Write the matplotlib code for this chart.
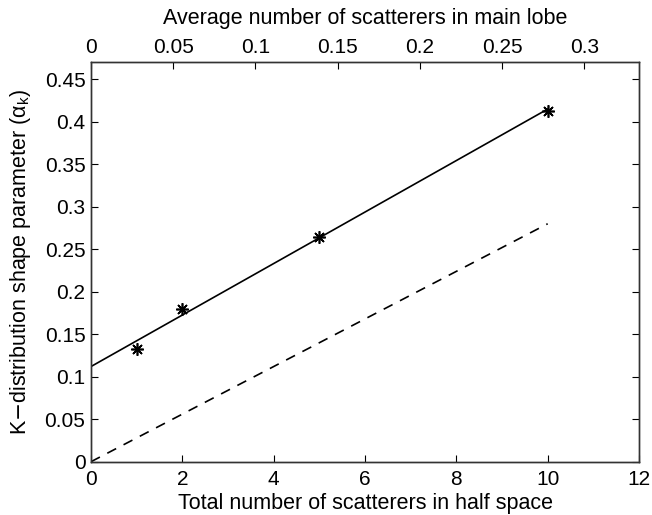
import matplotlib.pyplot as plt
import numpy as np

plt.rcParams['font.family'] = ['Liberation Sans', 'DejaVu Sans']

# measured points
n_total = [1, 2, 5, 10]
alpha_k = [0.133, 0.18, 0.265, 0.413]

# fitted line and theory line
fit_x = [0, 10]
fit_y = [0.112, 0.415]
theory_x = [0, 10]
theory_y = [0.0, 0.28]

xticks = [0, 2, 4, 6, 8, 10, 12]
yticks = [0, 0.05, 0.1, 0.15, 0.2, 0.25, 0.3, 0.35, 0.4, 0.45]
top_ticks = [0, 0.05, 0.1, 0.15, 0.2, 0.25, 0.3]
top_max = 12 / 36

fs = 15

fig = plt.figure(figsize=(6.52, 5.15), dpi=100)
ax = fig.add_axes([0.1396, 0.1035, 0.8405, 0.7755])

ax.plot(fit_x, fit_y, color='black', lw=1.2)
ax.plot(theory_x, theory_y, color='black', lw=1.2, ls=(0, (6, 5)))
ax.plot(n_total, alpha_k, ls='none', marker=(8, 2, 0), color='black', ms=9, mew=1.2)

ax.set_xlim(0, 12)
ax.set_ylim(0, 0.47)
ax.set_xticks(xticks)
ax.set_yticks(yticks)
ax.set_yticklabels([f'{v:g}' for v in yticks])
ax.tick_params(direction='in', labelsize=fs, right=True, length=5)
ax.tick_params(axis='x', pad=6)
ax.tick_params(axis='y', pad=4)
ax.set_xlabel('Total number of scatterers in half space', fontsize=fs + 0.5, labelpad=3)
ax.set_ylabel(r'K$-$distribution shape parameter ($\mathregular{\alpha_k}$)',
              fontsize=fs + 0.5, labelpad=8)

top = ax.twiny()
top.set_xlim(0, top_max)
top.set_xticks(top_ticks)
top.set_xticklabels([f'{v:g}' for v in top_ticks])
top.tick_params(direction='in', labelsize=fs, length=5, pad=4)
top.set_xlabel('Average number of scatterers in main lobe', fontsize=fs + 0.5, labelpad=10)

for a in (ax, top):
    for s in a.spines.values():
        s.set_linewidth(1.0)
        s.set_color('#333333')

fig.savefig('out.png', dpi=100)
